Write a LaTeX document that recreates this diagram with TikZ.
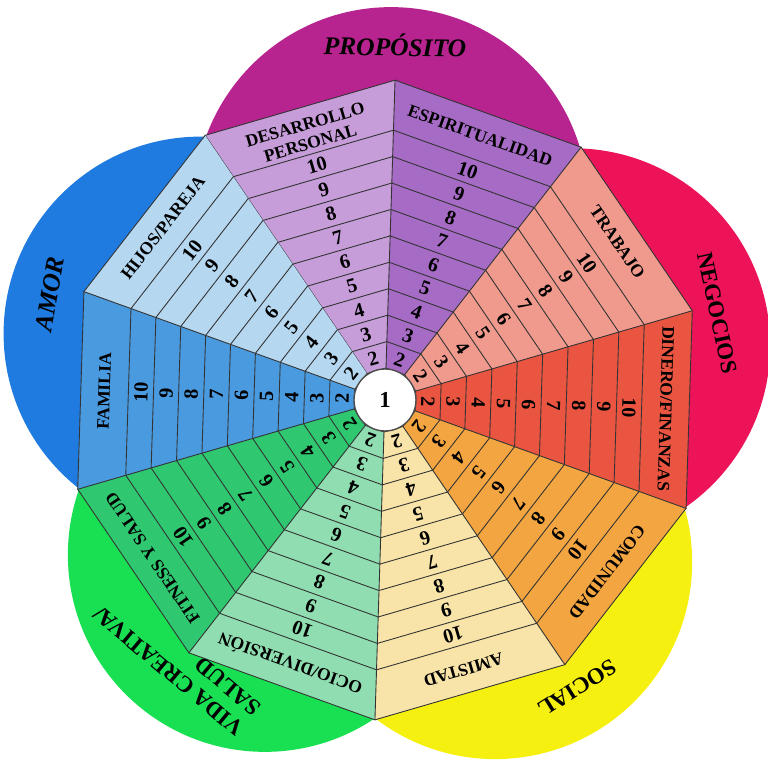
\documentclass[tikz,border=0pt]{standalone}
\usepackage{fontspec}
\setmainfont{Liberation Serif}
\usepackage{xcolor}
\definecolor{proposito}{HTML}{B7248F}
\definecolor{negocios}{HTML}{EC1358}
\definecolor{social}{HTML}{F6F010}
\definecolor{vida}{HTML}{18E052}
\definecolor{amor}{HTML}{1F7BE0}
\definecolor{desarrollo}{HTML}{C69DD9}
\definecolor{espiritu}{HTML}{A66BC5}
\definecolor{trabajo}{HTML}{F09A8E}
\definecolor{dinero}{HTML}{EA5541}
\definecolor{comunidad}{HTML}{F2A540}
\definecolor{amistad}{HTML}{F8E4A8}
\definecolor{ocio}{HTML}{8FDDB0}
\definecolor{fitness}{HTML}{2FC770}
\definecolor{familia}{HTML}{4A9AE0}
\definecolor{hijos}{HTML}{B5D7F0}
\tikzset{
  every picture/.style={line join=round, line cap=round},
  ring/.style={draw=black!80, line width=0.5pt},
  numlabel/.style={font=\bfseries\fontsize{11.5}{12}\selectfont, inner sep=0pt},
  seclabel/.style={font=\bfseries\fontsize{10}{11}\selectfont, inner sep=0pt, align=center},
  petallabel/.style={font=\bfseries\fontsize{13}{15}\selectfont, inner sep=0pt},
  petalit/.style={font=\bfseries\itshape\fontsize{14.5}{16}\selectfont, inner sep=0pt},
}

\begin{document}
\begin{tikzpicture}[x=0.02cm,y=0.02cm]
\useasboundingbox (-385,-368) rectangle (383,400);
% petals
\foreach \a/\c [count=\i] in {88.2/proposito,16.2/negocios,-55.8/social,-127.8/vida,160.2/amor}
  \fill[\c] (\a:196) coordinate (p\i) circle[radius=197];
% sectors with rings 2..10
\foreach \a/\c/\d/\t [count=\i] in {124.2/desarrollo/277/{DESARROLLO\\PERSONAL},88.2/espiritu/281/ESPIRITUALIDAD,
    52.2/trabajo/281/TRABAJO,16.2/dinero/281/{DINERO/FINANZAS},-19.8/comunidad/281/COMUNIDAD,-55.8/amistad/281/AMISTAD,
    -91.8/ocio/281/{OCIO/DIVERSIÓN},-127.8/fitness/281/FITNESS Y SALUD,-163.8/familia/281/FAMILIA,160.2/hijos/281/{HIJOS/PAREJA}}{
  \pgfmathsetmacro{\b}{\a-18}
  \pgfmathsetmacro{\e}{\a-36}
  \fill[\c] (0,0) -- (\a:320) -- (\e:320) -- cycle;
  \foreach \k in {1,...,10}{
    \pgfmathsetmacro{\r}{32+(\k-1)*26.44}
    \draw[ring] (\a:\r) -- (\e:\r);
  }
  \draw[ring] (\a:320) -- (\e:320);
  \draw[ring] (0,0) -- (\a:320);
  \foreach \n in {2,...,10}{
    \pgfmathsetmacro{\m}{(32+(\n-1.5)*26.44)*0.951}
    \node[numlabel, rotate=\b-90] (n\i-\n) at (\b:\m) {\n};
  }
  \node[seclabel, rotate=\b-90] (s\i) at (\b:\d) {\t};
}
% centre
\node[circle, draw=black!70, fill=white, line width=0.8pt, minimum size=1.24cm, inner sep=0pt,
  font=\bfseries\fontsize{13}{14}\selectfont] (one) at (0,0) {1};
% petal titles
\node[petalit, rotate=-1] (prop) at (10,355) {PROPÓSITO};
\node[petallabel, rotate=-78] (neg) at (332,87) {NEGOCIOS};
\node[petallabel, rotate=-148] (soc) at (192,-288) {SOCIAL};
\node[petallabel, align=left, rotate=140] (vid) at (-208,-261) {VIDA CREATIVA/\\SALUD};
\node[petalit, rotate=80] (amor) at (-335,106) {AMOR};
\end{tikzpicture}
\end{document}
